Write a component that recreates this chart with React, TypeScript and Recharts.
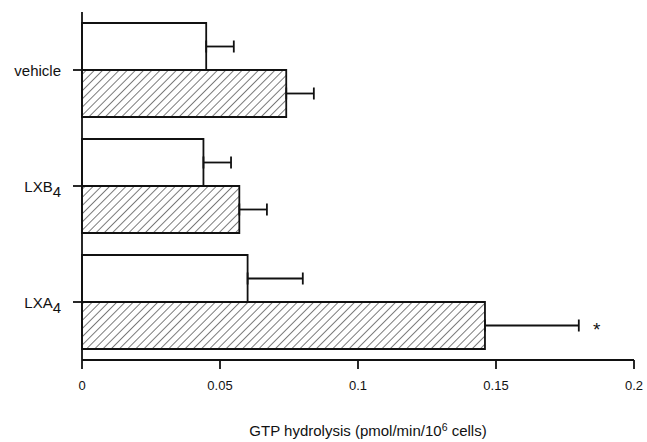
import React from 'react';
import { BarChart, Bar, XAxis, YAxis, ErrorBar, LabelList } from 'recharts';

const FONT = '"Liberation Sans", Arial, Helvetica, sans-serif';
const INK = '#111';

// treatment groups, top to bottom (subscript kept apart)
const groups = ['vehicle', 'LXB', 'LXA'];
const groupSubs = ['', '4', '4'];

// open bars and hatched bars, with their (upper) errors
const openValues = [0.045, 0.044, 0.06];
const openErrors = [0.01, 0.01, 0.02];
const hatchedValues = [0.074, 0.057, 0.146];
const hatchedErrors = [0.01, 0.01, 0.034];
const hatchedMarks = ['', '', '*'];

const xTicks = [0, 0.05, 0.1, 0.15, 0.2];

const rows = groups.map((name, i) => ({
  name,
  open: openValues[i],
  openErr: [0, openErrors[i]],
  hatched: hatchedValues[i],
  hatchedErr: [0, hatchedErrors[i]],
  mark: hatchedMarks[i],
}));

function GroupTick({ x, y, payload }: any) {
  const sub = groupSubs[groups.indexOf(payload.value)];
  return (
    <text x={x} y={y} dy={6} textAnchor="end" fontSize={15} fill={INK} fontFamily={FONT}>
      {payload.value}
      {sub ? <tspan dy={5}>{sub}</tspan> : null}
    </text>
  );
}

function MarkLabel(props: any) {
  const vb = props.viewBox ?? props;
  const { x, y, width, height } = vb;
  const i = props.index;
  if (!props.value || i == null) return null;
  const perUnit = width / hatchedValues[i];
  const capX = x + perUnit * (hatchedValues[i] + hatchedErrors[i]);
  return (
    <text x={capX + 18} y={y + height / 2 + 10} textAnchor="middle" fontSize={19} fill={INK} fontFamily={FONT}>
      {props.value}
    </text>
  );
}

function AxisTitle({ viewBox }: any) {
  const { x, y, width } = viewBox;
  return (
    <text x={x + width / 2 + 10} y={y + 76} textAnchor="middle" fontSize={15} fill={INK} fontFamily={FONT}>
      GTP hydrolysis (pmol/min/10
      <tspan dy={-5} fontSize={10.5}>6</tspan>
      <tspan dy={5}> cells)</tspan>
    </text>
  );
}

export default function App() {
  return (
    <div style={{ position: 'absolute', left: 0, top: 0, background: '#fff' }}>
      <BarChart
        width={647}
        height={442}
        data={rows}
        layout="vertical"
        margin={{ top: 12, right: 13, left: 0, bottom: 0 }}
        barSize={47}
        barGap={0}
      >
        <defs>
          <pattern id="hatch" width="5.8" height="5.8" patternUnits="userSpaceOnUse" patternTransform="rotate(45)">
            <rect width="5.8" height="5.8" fill="#fff" />
            <line x1="0" y1="0" x2="0" y2="5.8" stroke={INK} strokeWidth={1.1} />
          </pattern>
        </defs>
        <XAxis
          type="number"
          domain={[0, 0.2]}
          ticks={xTicks}
          height={82}
          tickSize={9}
          tickMargin={12}
          axisLine={{ stroke: INK, strokeWidth: 1.8 }}
          tickLine={{ stroke: INK, strokeWidth: 1.8 }}
          tick={{ fontSize: 13, fill: INK, fontFamily: FONT }}
          label={<AxisTitle />}
        />
        <YAxis
          type="category"
          dataKey="name"
          width={82}
          tickSize={9}
          tickMargin={12}
          axisLine={{ stroke: INK, strokeWidth: 1.8 }}
          tickLine={{ stroke: INK, strokeWidth: 1.8 }}
          tick={<GroupTick />}
        />
        <Bar dataKey="open" fill="#fff" stroke={INK} strokeWidth={1.8} isAnimationActive={false}>
          <ErrorBar dataKey="openErr" direction="x" width={6} stroke={INK} strokeWidth={1.8} />
        </Bar>
        <Bar dataKey="hatched" fill="url(#hatch)" stroke={INK} strokeWidth={1.8} isAnimationActive={false}>
          <ErrorBar dataKey="hatchedErr" direction="x" width={6} stroke={INK} strokeWidth={1.8} />
          <LabelList dataKey="mark" content={<MarkLabel />} />
        </Bar>
      </BarChart>
    </div>
  );
}
